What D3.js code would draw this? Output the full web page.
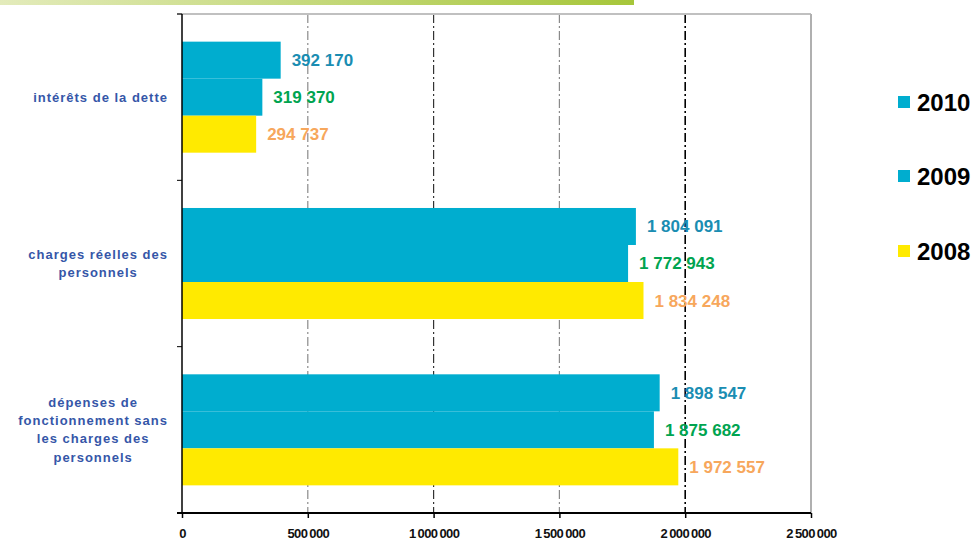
<!DOCTYPE html>
<html><head><meta charset="utf-8">
<script src="https://cdn.jsdelivr.net/npm/d3@7"></script>
<style>
html,body{margin:0;padding:0;background:#fff;}
svg{display:block;font-family:"Liberation Sans",Arial,sans-serif;}
</style></head>
<body>
<svg id="chart" width="974" height="540"></svg>
<script>
// ---- data ----
const categories = ["intérêts de la dette", "charges réelles des personnels", "dépenses de fonctionnement sans les charges des personnels"];
const categoryLines = [["intérêts de la dette"], ["charges réelles des", "personnels"], ["dépenses de", "fonctionnement sans", "les charges des", "personnels"]];
const years = ["2010", "2009", "2008"];
const values2010 = [392170, 1804091, 1898547];
const values2009 = [319370, 1772943, 1875682];
const values2008 = [294737, 1834248, 1972557];
const xTicks = [0, 500000, 1000000, 1500000, 2000000, 2500000];

(function() {
const seriesValues = {"2010": values2010, "2009": values2009, "2008": values2008};
const barColors = {"2010": "#00adcf", "2009": "#00adcf", "2008": "#ffea00"};
const labelColors = {"2010": "#1a8db2", "2009": "#00a450", "2008": "#f7a75c"};

const svg = d3.select("#chart");
const pLeft = 182, pRight = 811, pTop = 14, pBottom = 513;

// top decorative gradient
const defs = svg.append("defs");
const grad = defs.append("linearGradient").attr("id", "topgrad");
grad.append("stop").attr("offset", "0%").attr("stop-color", "#e3ebbb");
grad.append("stop").attr("offset", "100%").attr("stop-color", "#a6c63a");
svg.append("rect").attr("x", 0).attr("y", 0).attr("width", 634).attr("height", 5).attr("fill", "url(#topgrad)");

const x = d3.scaleLinear().domain([0, 2500000]).range([pLeft, pRight]);
const y = d3.scaleBand().domain(categories).range([pTop, pBottom]).padding(0);
const ySub = d3.scaleBand().domain(years).range([0, y.bandwidth()]).paddingInner(0).paddingOuter(0.747);

// grid lines
const gridStyle = {500000: ["#8a8a8a", 1.2], 1000000: ["#333", 1.2], 1500000: ["#8a8a8a", 1.2], 2000000: ["#000", 1.6]};
svg.append("g").selectAll("line").data(xTicks.filter(t => t > 0 && t < 2500000)).join("line")
  .attr("x1", d => x(d)).attr("x2", d => x(d))
  .attr("y1", pTop).attr("y2", pBottom)
  .attr("stroke", d => gridStyle[d][0]).attr("stroke-width", d => gridStyle[d][1])
  .attr("stroke-dasharray", "9,3,2,3");

// frame top and right (gray)
svg.append("line").attr("x1", pLeft - 5).attr("x2", pRight).attr("y1", pTop).attr("y2", pTop).attr("stroke", "#c0c0c0").attr("stroke-width", 2);
svg.append("line").attr("x1", pRight).attr("x2", pRight).attr("y1", pTop).attr("y2", pBottom).attr("stroke", "#b0b0b0").attr("stroke-width", 2);

// bars
const groups = svg.append("g").selectAll("g").data(categories).join("g")
  .attr("transform", c => `translate(0,${y(c)})`);

const fmt = d3.formatLocale({decimal: ",", thousands: " ", grouping: [3], currency: ["", ""]}).format(",d");

groups.each(function(c, i) {
  const g = d3.select(this);
  years.forEach(yr => {
    const v = seriesValues[yr][i];
    g.append("rect")
      .attr("x", x(0)).attr("y", ySub(yr))
      .attr("width", x(v) - x(0)).attr("height", ySub.bandwidth())
      .attr("fill", barColors[yr]);
  });
  years.forEach(yr => {
    const v = seriesValues[yr][i];
    g.append("text")
      .attr("x", x(v) + 11).attr("y", ySub(yr) + ySub.bandwidth() / 2 + 6)
      .attr("fill", labelColors[yr]).attr("font-size", 17).attr("font-weight", "bold")
      .text(fmt(v));
  });
});

// left axis
svg.append("line").attr("x1", pLeft).attr("x2", pLeft).attr("y1", pTop).attr("y2", pBottom).attr("stroke", "#000").attr("stroke-width", 1.5);
const boundaries = categories.map(c => y(c)).concat([pBottom]);
svg.append("g").selectAll("line").data(boundaries).join("line")
  .attr("x1", pLeft - 5).attr("x2", pLeft).attr("y1", d => d).attr("y2", d => d)
  .attr("stroke", "#000").attr("stroke-width", 1);

// bottom axis
const xAxis = d3.axisBottom(x).tickValues(xTicks).tickSize(5).tickFormat(d => fmt(d).replace(/ /g, "\u2009"));
const ax = svg.append("g").attr("transform", `translate(0,${pBottom})`).call(xAxis);
ax.select(".domain").attr("stroke", "#000").attr("stroke-width", 2).attr("d", `M${pLeft - 5},0H${pRight}`);
ax.selectAll(".tick line").attr("stroke", "#000").attr("stroke-width", 1.5);
ax.selectAll(".tick text").attr("y", 16).attr("dy", "0.71em")
  .attr("font-family", "'Liberation Sans',Arial,sans-serif").attr("font-size", 13).attr("font-weight", "bold")
  .attr("letter-spacing", "-0.6").attr("fill", "#111");

// category labels
const catG = svg.append("g");
categoryLines.forEach((lines, i) => {
  const c = categories[i];
  const center = y(c) + y.bandwidth() / 2;
  const lh = 18.3;
  const tg = catG.append("g");
  const texts = lines.map((ln, k) => tg.append("text")
    .attr("y", center + (k - (lines.length - 1) / 2) * lh + 4.5)
    .attr("font-size", 13).attr("font-weight", "bold").attr("letter-spacing", "1")
    .attr("fill", "#3556a8").attr("text-anchor", "middle").text(ln));
  const w = d3.max(texts, t => t.node().getComputedTextLength());
  texts.forEach(t => t.attr("x", 168 - w / 2));
});

// legend
const legendY = [102, 176, 251];
const lg = svg.append("g");
years.forEach((yr, i) => {
  lg.append("rect").attr("x", 898).attr("y", legendY[i] - 6).attr("width", 12).attr("height", 12).attr("fill", barColors[yr]);
  lg.append("text").attr("x", 917).attr("y", legendY[i] + 9).attr("font-size", 24).attr("font-weight", "bold")
    .attr("fill", "#000").text(yr);
});
})();
</script>
</body></html>
